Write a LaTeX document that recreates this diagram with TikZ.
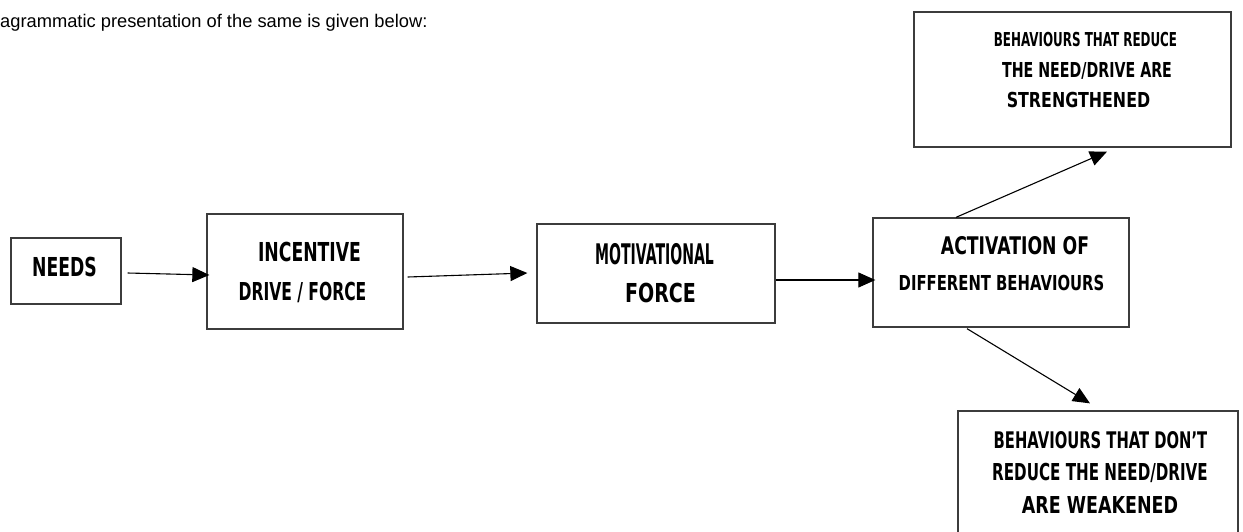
\documentclass[tikz,border=0pt]{standalone}
\usepackage{fontspec}
\usepackage{graphicx}
\setmainfont{Liberation Sans}
\newfontfamily\boxfont{DejaVu Sans}
\usetikzlibrary{arrows.meta}
\definecolor{boxline}{HTML}{3C3C3C}
% size, horizontal squeeze, text
\newcommand\sqz[3]{\fontsize{#1}{#1}\selectfont\scalebox{#2}[1]{#3}}
\begin{document}
\begin{tikzpicture}[x=1pt,y=-1pt,
  box/.style={draw=boxline, line width=1.3pt, inner sep=0pt},
  txt/.style={anchor=base, inner sep=0pt, font=\boxfont\bfseries},
  arr/.style={line width=1.1pt, -{Triangle[length=17pt,width=15pt]}}]
\useasboundingbox (0,0) rectangle (1243,531);
\clip (0,0) rectangle (1243,531);

% heading line
\node[anchor=base west, inner sep=0pt, font=\fontsize{18.3}{22}\selectfont] (head) at (0,27)
  {agrammatic presentation of the same is given below:};

% boxes
\node[box, minimum width=110pt, minimum height=66pt]  (needs) at (66,271) {};
\node[box, minimum width=196pt, minimum height=115pt] (incentive) at (305,271.5) {};
\node[box, minimum width=238pt, minimum height=99pt]  (motiv) at (656,273.5) {};
\node[box, minimum width=256pt, minimum height=109pt] (activ) at (1001,272.5) {};
\node[box, minimum width=317pt, minimum height=135pt] (strong) at (1072.5,79.5) {};
\node[box, minimum width=280pt, minimum height=134pt] (weak) at (1098,478) {};

% box texts
\node[txt] (needsA) at (64.5,276) {\sqz{26.1}{0.66}{NEEDS}};
\node[txt] (incA) at (309.5,261) {\sqz{26.1}{0.66}{INCENTIVE}};
\node[txt] (incB) at (302.5,300) {\sqz{24.7}{0.63}{DRIVE / FORCE}};
\node[txt] (motA) at (654.5,264) {\sqz{28.4}{0.495}{MOTIVATIONAL}};
\node[txt] (motB) at (660.5,302) {\sqz{26.1}{0.73}{FORCE}};
\node[txt] (actA) at (1015,254) {\sqz{24.3}{0.71}{ACTIVATION OF}};
\node[txt] (actB) at (1001.5,290) {\sqz{20.6}{0.72}{DIFFERENT BEHAVIOURS}};
\node[txt] (strA) at (1085.5,46) {\sqz{19.2}{0.62}{BEHAVIOURS THAT REDUCE}};
\node[txt] (strB) at (1087,77) {\sqz{20.6}{0.69}{THE NEED/DRIVE ARE}};
\node[txt] (strC) at (1078.5,107) {\sqz{20.6}{0.77}{STRENGTHENED}};
\node[txt] (wkA) at (1100.5,448) {\sqz{22.9}{0.645}{BEHAVIOURS THAT DON’T}};
\node[txt] (wkB) at (1100,480) {\sqz{23.3}{0.65}{REDUCE THE NEED/DRIVE}};
\node[txt] (wkC) at (1100,513) {\sqz{23.3}{0.75}{ARE WEAKENED}};

% connectors
\draw[arr] ([xshift=6pt,yshift=-2pt]needs.east) -- ([xshift=3pt,yshift=-3.5pt]incentive.west);
\draw[arr] ([xshift=4pt,yshift=-5.5pt]incentive.east) -- ([xshift=-9pt,yshift=0.5pt]motiv.west);
\draw[arr] ([yshift=-6.5pt]motiv.east) -- ([xshift=3pt,yshift=-7.5pt]activ.west);
\draw[arr] ([xshift=-45pt]activ.north) -- ([xshift=34.5pt,yshift=-4pt]strong.south);
\draw[arr] ([xshift=-34pt,yshift=-1pt]activ.south) -- ([xshift=-8pt,yshift=7pt]weak.north);
\end{tikzpicture}
\end{document}
